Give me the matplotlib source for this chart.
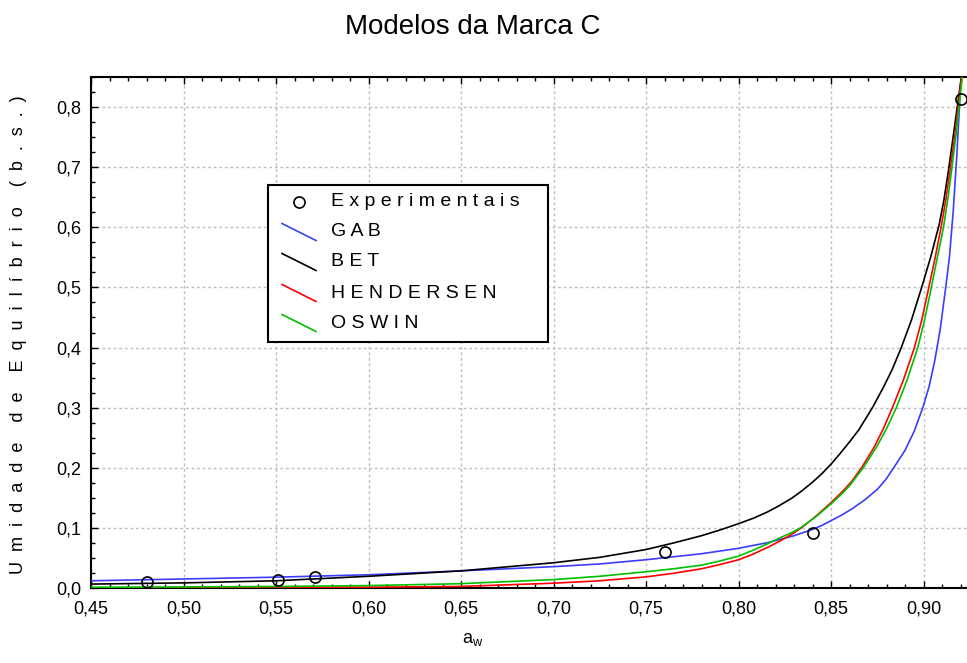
import matplotlib
matplotlib.use("Agg")
import matplotlib.pyplot as plt
from matplotlib.ticker import MultipleLocator, FuncFormatter
from matplotlib.patches import Rectangle
from matplotlib.lines import Line2D

plt.rcParams['font.family'] = ['Liberation Sans', 'DejaVu Sans']

# experimental points
aw_exp = [0.48, 0.551, 0.571, 0.76, 0.84, 0.92]
x_exp = [0.010, 0.013, 0.019, 0.060, 0.092, 0.813]

# model curves
gab_aw = [0.45, 0.50, 0.55, 0.60, 0.65, 0.70, 0.725, 0.75, 0.78, 0.80, 0.816, 0.83, 0.84, 0.845,
          0.85, 0.855, 0.861, 0.868, 0.875, 0.8795, 0.8837, 0.89, 0.895, 0.8996, 0.903, 0.906,
          0.909, 0.912, 0.914, 0.916, 0.918, 0.9194, 0.9205]
gab_x = [0.012, 0.015, 0.018, 0.022, 0.0285, 0.0355, 0.040, 0.047, 0.057, 0.066, 0.0756, 0.087, 0.0975, 0.104,
         0.112, 0.120, 0.131, 0.146, 0.164, 0.180, 0.199, 0.229, 0.261, 0.300, 0.335, 0.377,
         0.430, 0.500, 0.550, 0.625, 0.720, 0.800, 0.865]

bet_aw = [0.45, 0.50, 0.55, 0.60, 0.65, 0.70, 0.725, 0.75, 0.765, 0.78, 0.79, 0.80, 0.808, 0.816,
          0.822, 0.8286, 0.834, 0.84, 0.845, 0.85, 0.855, 0.86, 0.865, 0.8724, 0.878, 0.883,
          0.888, 0.8935, 0.899, 0.904, 0.9085, 0.911, 0.9135, 0.916, 0.918, 0.9205]
bet_x = [0.0065, 0.0085, 0.012, 0.0195, 0.0285, 0.042, 0.051, 0.064, 0.075, 0.087, 0.0965, 0.107, 0.116, 0.127,
         0.137, 0.149, 0.161, 0.176, 0.190, 0.206, 0.224, 0.243, 0.263, 0.300, 0.332, 0.363,
         0.400, 0.446, 0.500, 0.552, 0.605, 0.645, 0.695, 0.750, 0.795, 0.850]

hen_aw = [0.45, 0.50, 0.55, 0.60, 0.65, 0.70, 0.725, 0.75, 0.765, 0.78, 0.79, 0.80, 0.808, 0.816,
          0.822, 0.8286, 0.834, 0.842, 0.85, 0.856, 0.8611, 0.8665, 0.8729, 0.878, 0.8832, 0.889,
          0.8951, 0.899, 0.9025, 0.906, 0.9095, 0.912, 0.9144, 0.917, 0.9189, 0.9207]
hen_x = [0.0002, 0.0004, 0.0007, 0.0013, 0.0026, 0.008, 0.012, 0.0185, 0.0245, 0.032, 0.039, 0.047, 0.0565, 0.068,
         0.0775, 0.089, 0.100, 0.120, 0.142, 0.160, 0.177, 0.200, 0.232, 0.263, 0.300, 0.345,
         0.400, 0.445, 0.495, 0.545, 0.600, 0.645, 0.695, 0.755, 0.805, 0.855]

osw_aw = [0.45, 0.50, 0.55, 0.60, 0.65, 0.70, 0.725, 0.75, 0.765, 0.78, 0.79, 0.80, 0.808, 0.816,
          0.822, 0.8286, 0.8335, 0.842, 0.85, 0.856, 0.86, 0.8674, 0.8745, 0.880, 0.8853, 0.891,
          0.8969, 0.9005, 0.9039, 0.9075, 0.9108, 0.9135, 0.9153, 0.9175, 0.9192, 0.921]
osw_x = [0.0012, 0.0018, 0.0025, 0.004, 0.0072, 0.014, 0.0195, 0.027, 0.032, 0.038, 0.045, 0.053, 0.063, 0.074,
         0.083, 0.092, 0.100, 0.119, 0.140, 0.157, 0.170, 0.200, 0.234, 0.265, 0.300, 0.345,
         0.400, 0.445, 0.495, 0.550, 0.600, 0.655, 0.698, 0.752, 0.800, 0.852]

legend_labels = ["Experimentais", "GAB", "BET", "HENDERSEN", "OSWIN"]
colors = ["#3c3cff", "black", "#ff0000", "#00c000"]


def spaced(s, gap=" "):
    return gap.join(list(s))


def comma(v, pos):
    return ("%.2f" % v).replace(".", ",")


def comma1(v, pos):
    return ("%.1f" % v).replace(".", ",")


fig = plt.figure(figsize=(9.67, 6.63), dpi=100)
ax = fig.add_axes([91 / 967, 1 - 588 / 663, 1 - 91 / 967, (588 - 77) / 663])

ax.plot(gab_aw, gab_x, color=colors[0], lw=1.2, zorder=3)
ax.plot(bet_aw, bet_x, color=colors[1], lw=1.2, zorder=3)
ax.plot(hen_aw, hen_x, color=colors[2], lw=1.2, zorder=3)
ax.plot(osw_aw, osw_x, color=colors[3], lw=1.2, zorder=3)
ax.plot(aw_exp, x_exp, 'o', mfc='none', mec='black', ms=8, mew=1.2, zorder=4)

ax.set_xlim(0.45, 0.9235)
ax.set_ylim(0, 0.85)
ax.xaxis.set_major_locator(MultipleLocator(0.05))
ax.xaxis.set_minor_locator(MultipleLocator(0.01))
ax.yaxis.set_major_locator(MultipleLocator(0.1))
ax.yaxis.set_minor_locator(MultipleLocator(0.025))
ax.xaxis.set_major_formatter(FuncFormatter(comma))
ax.yaxis.set_major_formatter(FuncFormatter(comma1))
ax.tick_params(which='both', direction='in', top=True, right=False, labelsize=13, width=1)
ax.tick_params(which='major', length=5)
ax.tick_params(which='minor', length=3)
ax.tick_params(axis='x', which='major', pad=9)
ax.tick_params(axis='y', which='major', pad=7)
ax.grid(True, which='major', color='#bdbdbd', linestyle=(0, (2, 2)), lw=1)
for side in ['left', 'bottom', 'top']:
    ax.spines[side].set_linewidth(1.5)
ax.spines['right'].set_visible(False)

fig.text(473 / 967, 1 - 27 / 663, "Modelos da Marca C", fontsize=20, ha='center', va='center')
fig.text(473 / 967, 1 - 640 / 663, r"a$_\mathregular{w}$", fontsize=13, ha='center', va='center')
ylab = "    ".join([spaced("Umidade", "  "), spaced("de", "  "),
                    spaced("Equilíbrio", "  "), spaced("(b.s.)", "  ")])
fig.text(19 / 967, 1 - 335 / 663, ylab, fontsize=13, rotation=90, ha='center', va='center')

# legend box drawn in axes coordinates
def ax_xy(px, py):
    return (px - 91) / 876, (588 - py) / 511

x0, y0 = ax_xy(268, 342)
x1, y1 = ax_xy(548, 185)
ax.add_patch(Rectangle((x0, y0), x1 - x0, y1 - y0, transform=ax.transAxes,
                       facecolor='white', edgecolor='black', lw=1.5, zorder=5))
rows = [202, 232, 262, 293, 323]
for i, (lab, py) in enumerate(zip(legend_labels, rows)):
    tx, ty = ax_xy(331, py)
    if i == 0:
        cx, cy = ax_xy(299, py)
        ax.add_line(Line2D([cx], [cy], marker='o', mfc='none', mec='black', ms=8, mew=1.2,
                           transform=ax.transAxes, zorder=6))
    else:
        ax0, ay0 = ax_xy(282, py - 8.5)
        ax1, ay1 = ax_xy(316, py + 8.5)
        ax.add_line(Line2D([ax0, ax1], [ay0, ay1], color=colors[i - 1], lw=1.2,
                           transform=ax.transAxes, zorder=6))
    ax.text(tx, ty, spaced(lab), transform=ax.transAxes, fontsize=14, va='center', ha='left', zorder=6)

fig.savefig("out.png", dpi=100)
